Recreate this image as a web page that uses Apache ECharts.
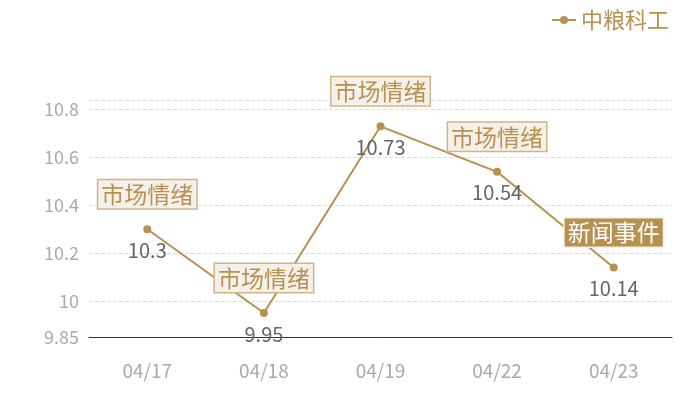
<!DOCTYPE html>
<html>
<head>
<meta charset="utf-8">
<script src="https://cdn.jsdelivr.net/npm/echarts@6/dist/echarts.min.js"></script>
<style>
  html, body { margin: 0; padding: 0; background: #fff; }
  #chart { width: 700px; height: 400px; }
</style>
</head>
<body>
<div id="chart"></div>
<script>
const seriesName = '中粮科工'
const dates = ['04/17', '04/18', '04/19', '04/22', '04/23']
const prices = [10.3, 9.95, 10.73, 10.54, 10.14]
const eventTags = ['市场情绪', '市场情绪', '市场情绪', '市场情绪', '新闻事件']

const gold = '#b8904f'
const font = '"Noto Sans CJK SC", "Noto Sans", sans-serif'

const marks = dates.map((d, i) => {
  const isNews = eventTags[i] === '新闻事件'
  return {
    coord: [i, prices[i]],
    value: eventTags[i],
    label: {
      backgroundColor: isNews ? gold : '#f4f0ea',
      borderColor: isNews ? '#f4f0ea' : '#d2b488',
      color: isNews ? '#fff' : gold
    }
  }
})

const chart = echarts.init(document.getElementById('chart'))
chart.setOption({
  textStyle: { fontFamily: font },
  legend: {
    right: 26,
    top: 4,
    itemWidth: 24,
    itemHeight: 10,
    itemGap: 6,
    textStyle: { color: gold, fontSize: 22, fontFamily: font },
    data: [seriesName]
  },
  grid: { left: 89, right: 28, top: 100, bottom: 63 },
  xAxis: {
    type: 'category',
    data: dates,
    axisTick: { show: false },
    axisLine: { lineStyle: { color: '#333', width: 1 } },
    axisLabel: { color: '#aaa', fontSize: 19, margin: 24, fontFamily: font }
  },
  yAxis: {
    type: 'value',
    min: 9.85,
    max: 10.84,
    axisLine: { show: false },
    axisTick: { show: false },
    axisLabel: { color: '#aaa', fontSize: 18, margin: 10, showMaxLabel: false, fontFamily: font },
    splitLine: { lineStyle: { color: '#ddd', type: 'dashed' } }
  },
  series: [
    {
      name: seriesName,
      type: 'line',
      data: prices,
      symbol: 'circle',
      symbolSize: 8,
      itemStyle: { color: gold },
      lineStyle: { color: gold, width: 2 },
      label: {
        show: true,
        position: 'bottom',
        distance: 7,
        color: '#666',
        fontSize: 20,
        fontFamily: font
      },
      markPoint: {
        symbol: 'rect',
        symbolSize: 0,
        label: {
          show: true,
          formatter: p => p.value,
          offset: [0, -35],
          fontSize: 23,
          fontFamily: font,
          borderWidth: 1.5,
          padding: [3, 3, 2, 3]
        },
        data: marks
      }
    }
  ]
})
</script>
</body>
</html>
